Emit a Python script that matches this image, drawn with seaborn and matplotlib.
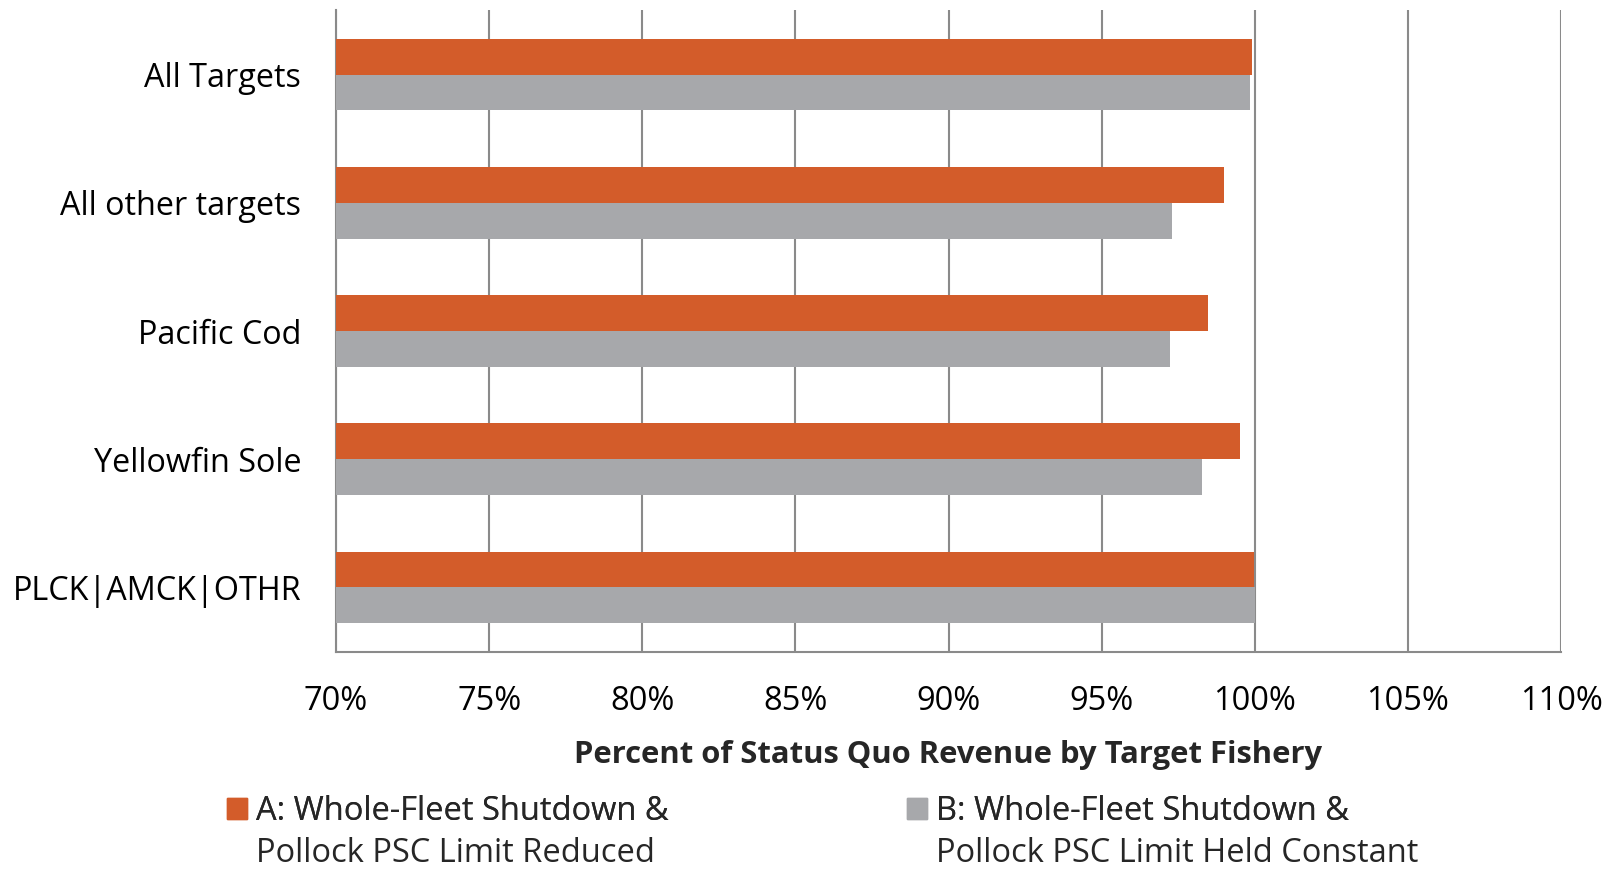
import pandas as pd
import numpy as np
import matplotlib.pyplot as plt
import seaborn as sns
from matplotlib.ticker import FuncFormatter, FixedLocator

# chart values (percent of status quo revenue)
categories = ['All Targets', 'All other targets', 'Pacific Cod', 'Yellowfin Sole', 'PLCK|AMCK|OTHR']
series_names = ['A: Whole-Fleet Shutdown &', 'B: Whole-Fleet Shutdown &']
series_second_line = ['Pollock PSC Limit Reduced', 'Pollock PSC Limit Held Constant']
values_a = [99.90, 98.99, 98.48, 99.52, 99.98]
values_b = [99.84, 97.30, 97.24, 98.26, 100.0]
x_ticks = [70, 75, 80, 85, 90, 95, 100, 105, 110]

df = pd.DataFrame({
    'category': categories * 2,
    'series': [series_names[0]] * len(categories) + [series_names[1]] * len(categories),
    'value': values_a + values_b,
})

sns.set_style('white')
plt.rcParams['font.family'] = ['Open Sans', 'DejaVu Sans']

fig = plt.figure(figsize=(16.17, 8.72), dpi=100)
ax = fig.add_axes([0.2078, 0.2528, 0.7576, 0.7352])

grid_color = '#8a8a8a'
palette = {series_names[0]: '#D35C2A', series_names[1]: '#A7A8AB'}

sns.barplot(data=df, y='category', x='value', hue='series', order=categories,
            hue_order=series_names, palette=palette, width=0.56, orient='h',
            saturation=1, edgecolor='none', ax=ax, legend=False, zorder=3)

ax.set_xlim(70, 110)
ax.set_ylim(len(categories) - 0.5, -0.5)
ax.xaxis.set_major_locator(FixedLocator(x_ticks))
ax.xaxis.set_major_formatter(FuncFormatter(lambda v, p: f'{v:.0f}%'))
ax.grid(axis='x', color=grid_color, linewidth=1.5, zorder=0)
ax.set_axisbelow(True)

sns.despine(ax=ax, top=True, right=True)
for s in ['left', 'bottom']:
    ax.spines[s].set_color(grid_color)
    ax.spines[s].set_linewidth(1.5)

ax.tick_params(axis='x', which='major', direction='out', length=7, width=1.5,
               color=grid_color, pad=17, labelsize=23.5, labelcolor='black')
ax.tick_params(axis='y', which='major', length=0, pad=25, labelsize=23.3, labelcolor='black')
ax.yaxis.set_minor_locator(FixedLocator(np.arange(-0.5, len(categories), 1.0)))
ax.tick_params(axis='y', which='minor', direction='out', length=7, width=1.5, color=grid_color)
ax.xaxis.set_minor_locator(FixedLocator([]))

ax.set_ylabel('')
ax.set_xlabel('Percent of Status Quo Revenue by Target Fishery', fontsize=22.3,
              fontweight='bold', labelpad=16)

# legend: one small legend per series, first line with the swatch, second line below
legend_x = [227 / 1617, 907 / 1617]
legends = []
for name, x0 in zip(series_names, legend_x):
    h = plt.Rectangle((0, 0), 1, 1, color=palette[name])
    lg = fig.legend([h], [name], loc='upper left', bbox_to_anchor=(x0, 1 - 795 / 872),
                    frameon=False, fontsize=23.5, handlelength=0.6, handleheight=0.6,
                    handletextpad=0.3, borderaxespad=0, borderpad=0)
    fig.add_artist(lg)
    legends.append(lg)
fig.canvas.draw()
for lg, second in zip(legends, series_second_line):
    t = lg.get_texts()[0]
    bb = t.get_window_extent().transformed(fig.transFigure.inverted())
    fig.text(bb.x0, bb.y0 - 42 / 872, second, fontsize=23.5, va='bottom', ha='left')

fig.savefig('out.png', dpi=100)
